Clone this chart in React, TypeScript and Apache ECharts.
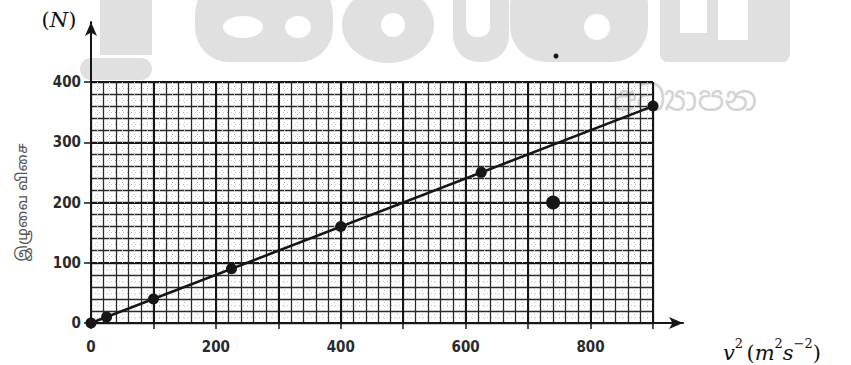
import React, { useEffect, useRef } from "react";
import * as echarts from "echarts";

// Data: v^2 (m^2 s^-2) vs tension (N)
const v2Values = [0, 25, 100, 225, 400, 625, 900];
const forceValues = [0, 10, 40, 90, 160, 250, 360];
const outlier = [740, 200];
const fitLine = [
  [0, 0],
  [900, 360],
];
const xTickLabels = ["0", "200", "400", "600", "800"];
const yTickLabels = ["0", "100", "200", "300", "400"];
const yTitle = "இழுவை விசை";
const watermarkText = "අධ්‍යාපන";

const INK = "#161616";
const WM = "#e0e0e0";
const labelFont = "'Liberation Sans Narrow', 'DejaVu Sans Condensed', 'Liberation Sans', sans-serif";

export default function App() {
  const ref = useRef<HTMLDivElement>(null);
  useEffect(() => {
    if (!ref.current) return;
    const chart = echarts.init(ref.current, null, { renderer: "svg" });

    const gridAxisX = (interval: number, line: any, extra: any = {}) => ({
      type: "value",
      gridIndex: 0,
      position: "bottom",
      min: 0,
      max: 900,
      interval,
      z: 5,
      axisLine: { show: false, onZero: false },
      axisTick: { show: false },
      axisLabel: { show: false },
      splitLine: { show: true, lineStyle: line },
      ...extra,
    });
    const gridAxisY = (interval: number, line: any, extra: any = {}) => ({
      type: "value",
      gridIndex: 0,
      position: "left",
      min: 0,
      max: 400,
      interval,
      z: 5,
      axisLine: { show: false, onZero: false },
      axisTick: { show: false },
      axisLabel: { show: false },
      splitLine: { show: true, lineStyle: line },
      ...extra,
    });

    const option: any = {
      animation: false,
      backgroundColor: "#ffffff",
      grid: [
        { left: 91, top: 82, width: 562, height: 241 },
        { left: 91, top: 22, width: 592, height: 301 },
      ],
      xAxis: [
        gridAxisX(10, { color: "#c4c4c4", width: 1, type: [1, 3] }),
        gridAxisX(20, { color: "#2a2a2a", width: 1.3 }),
        gridAxisX(100, { color: INK, width: 2 }, {
          axisTick: { show: true, length: 6, inside: false, lineStyle: { color: INK, width: 1.5 } },
          axisLabel: {
            show: true,
            margin: 16,
            fontFamily: labelFont,
            fontWeight: "bold",
            fontSize: 15,
            color: "#2b2b2b",
            formatter: (v: number) => (xTickLabels.includes(String(v)) ? String(v) : ""),
          },
        }),
        {
          type: "value",
          gridIndex: 1,
          position: "bottom",
          min: 0,
          max: 948,
          z: 6,
          axisLine: {
            show: true,
            onZero: false,
            symbol: ["none", "arrow"],
            symbolSize: [9, 14],
            lineStyle: { color: INK, width: 2 },
          },
          axisTick: { show: false },
          axisLabel: { show: false },
          splitLine: { show: false },
        },
      ],
      yAxis: [
        gridAxisY(10, { color: "#c4c4c4", width: 1, type: [1, 3] }),
        gridAxisY(20, { color: "#2a2a2a", width: 1.3 }),
        gridAxisY(100, { color: INK, width: 2 }, {
          axisTick: { show: true, length: 7, inside: false, lineStyle: { color: INK, width: 1.5 } },
          axisLabel: {
            show: true,
            margin: 10,
            fontFamily: labelFont,
            fontWeight: "bold",
            fontSize: 15,
            color: "#2b2b2b",
            formatter: (v: number) => (yTickLabels.includes(String(v)) ? String(v) : ""),
          },
          name: yTitle,
          nameLocation: "middle",
          nameGap: 60,
          nameRotate: 90,
          nameTextStyle: { fontSize: 15, color: "#555", fontFamily: "'Noto Sans Tamil', 'Noto Sans', sans-serif" },
        }),
        {
          type: "value",
          gridIndex: 1,
          position: "left",
          min: 0,
          max: 500,
          z: 6,
          axisLine: {
            show: true,
            onZero: false,
            symbol: ["none", "arrow"],
            symbolSize: [9, 14],
            lineStyle: { color: INK, width: 2 },
          },
          axisTick: { show: false },
          axisLabel: { show: false },
          splitLine: { show: false },
        },
      ],
      series: [
        {
          type: "line",
          xAxisIndex: 2,
          yAxisIndex: 2,
          data: fitLine,
          symbol: "none",
          z: 10,
          lineStyle: { color: INK, width: 2.6 },
        },
        {
          type: "scatter",
          xAxisIndex: 2,
          yAxisIndex: 2,
          data: v2Values.map((x, i) => [x, forceValues[i]]),
          symbolSize: 11,
          z: 11,
          itemStyle: { color: INK, opacity: 1 },
        },
        {
          type: "scatter",
          xAxisIndex: 2,
          yAxisIndex: 2,
          data: [outlier],
          symbolSize: 14,
          z: 11,
          itemStyle: { color: INK, opacity: 1 },
        },
      ],
      graphic: [
        // watermark shapes (behind the graph paper)
        { type: "rect", z: 1, shape: { x: 100, y: 0, width: 52, height: 55 }, style: { fill: WM } },
        { type: "rect", z: 1, shape: { x: 80, y: 58, width: 72, height: 22, r: 11 }, style: { fill: WM } },
        { type: "rect", z: 1, shape: { x: 195, y: -20, width: 138, height: 82, r: 34 }, style: { fill: WM } },
        { type: "ellipse", z: 1, shape: { cx: 243, cy: 27, rx: 20, ry: 11 }, style: { fill: "#fff" } },
        { type: "ellipse", z: 1, shape: { cx: 298, cy: 27, rx: 13, ry: 11 }, style: { fill: "#fff" } },
        { type: "ellipse", z: 1, shape: { cx: 388, cy: 25, rx: 46, ry: 38 }, style: { fill: WM } },
        { type: "circle", z: 1, shape: { cx: 393, cy: 25, r: 12 }, style: { fill: "#fff" } },
        { type: "rect", z: 1, shape: { x: 453, y: -30, width: 56, height: 92, r: 26 }, style: { fill: WM } },
        { type: "rect", z: 1, shape: { x: 466, y: -10, width: 24, height: 47, r: 10 }, style: { fill: "#fff" } },
        { type: "rect", z: 1, shape: { x: 510, y: -30, width: 138, height: 92, r: 36 }, style: { fill: WM } },
        { type: "circle", z: 1, shape: { cx: 597, cy: 27, r: 13 }, style: { fill: "#fff" } },
        { type: "rect", z: 1, shape: { x: 660, y: 0, width: 130, height: 62, r: [0, 0, 8, 8] }, style: { fill: WM } },
        { type: "rect", z: 1, shape: { x: 680, y: 0, width: 27, height: 33 }, style: { fill: "#fff" } },
        { type: "rect", z: 1, shape: { x: 718, y: 0, width: 30, height: 40 }, style: { fill: "#fff" } },
        {
          type: "text",
          z: 1,
          style: {
            text: watermarkText,
            x: 757,
            y: 99,
            align: "right",
            verticalAlign: "middle",
            fontSize: 34,
            fill: "#d4d4d4",
            fontFamily: "'Noto Sans Sinhala', 'Noto Sans', sans-serif",
          },
        },
        // scan speck
        { type: "circle", z: 12, shape: { cx: 556, cy: 56, r: 2.5 }, style: { fill: INK } },
        // axis unit labels
        {
          type: "text",
          z: 12,
          style: {
            text: "{p|(}{i|N}{p|)}",
            x: 59,
            y: 20,
            align: "center",
            verticalAlign: "middle",
            rich: {
              p: { fontSize: 21, fontFamily: "'DejaVu Serif', serif", fill: "#111" },
              i: { fontSize: 21, fontFamily: "'DejaVu Serif', serif", fontStyle: "italic", fill: "#111" },
            },
          },
        },
        {
          type: "text",
          z: 12,
          style: {
            text: "{i|v}{s|2} {p|(}{i|m}{s|2}{i|s}{s|−2}{p|)}",
            x: 723,
            y: 350,
            align: "left",
            verticalAlign: "middle",
            rich: {
              p: { fontSize: 21, lineHeight: 26, fontFamily: "'DejaVu Serif', serif", fill: "#111", verticalAlign: "bottom" },
              i: { fontSize: 21, lineHeight: 26, fontFamily: "'DejaVu Serif', serif", fontStyle: "italic", fill: "#111", verticalAlign: "bottom" },
              s: { fontSize: 13, lineHeight: 13, fontFamily: "'DejaVu Serif', serif", fill: "#111", verticalAlign: "top" },
            },
          },
        },
      ],
    };
    chart.setOption(option);
    return () => chart.dispose();
  }, []);

  return (
    <div
      ref={ref}
      style={{ position: "fixed", left: 0, top: 0, width: 851, height: 365, background: "#fff" }}
    />
  );
}
